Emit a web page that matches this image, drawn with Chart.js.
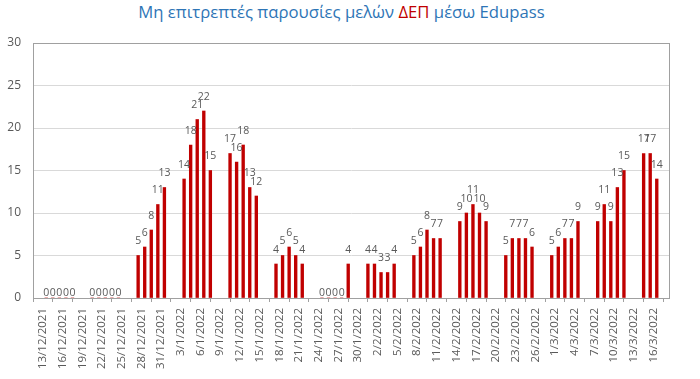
<!DOCTYPE html>
<html lang="el">
<head>
    <meta charset="UTF-8">
    <title>Μη επιτρεπτές παρουσίες μελών ΔΕΠ μέσω Edupass</title>
    <script src="https://cdn.jsdelivr.net/npm/chart.js"></script>
    <style>
        body { margin: 0; background: #fff; }
        .wrap { position: relative; width: 700px; height: 379px; }
        .title {
            position: absolute;
            top: 2px;
            left: 0;
            width: 683px;
            text-align: center;
            font-family: "Open Sans", sans-serif;
            font-size: 16.7px;
            line-height: 20px;
            color: #2e75b6;
            white-space: nowrap;
        }
        .title .red { color: #c00000; }
        canvas { position: absolute; top: 0; left: 0; }
    </style>
</head>
<body>
    <div class="wrap">
        <div class="title">Μη επιτρεπτές παρουσίες μελών <span class="red">ΔΕΠ</span> μέσω Edupass</div>
        <canvas id="chart" width="700" height="379"></canvas>
    </div>
    <script>
        // one entry per day, 13/12/2021 .. 16/3/2022 (null = weekend / holiday)
        const values = [
            0, 0, 0, 0, 0, null, null,        // 13/12
            0, 0, 0, 0, 0, null, null,        // 20/12
            5, 6, 8, 11, 13, null, null,      // 27/12
            14, 18, 21, 22, 15, null, null,   // 3/1
            17, 16, 18, 13, 12, null, null,   // 10/1
            4, 5, 6, 5, 4, null, null,        // 17/1
            0, 0, 0, 0, 4, null, null,        // 24/1
            4, 4, 3, 3, 4, null, null,        // 31/1
            5, 6, 8, 7, 7, null, null,        // 7/2
            9, 10, 11, 10, 9, null, null,     // 14/2
            5, 7, 7, 7, 6, null, null,        // 21/2
            5, 6, 7, 7, 9, null, null,        // 28/2
            9, 11, 9, 13, 15, null, null,     // 7/3
            17, 17, 14                        // 14/3
        ];

        // axis labels, every third day
        const tickLabels = [
            '13/12/2021', '16/12/2021', '19/12/2021', '22/12/2021', '25/12/2021',
            '28/12/2021', '31/12/2021', '3/1/2022', '6/1/2022', '9/1/2022',
            '12/1/2022', '15/1/2022', '18/1/2022', '21/1/2022', '24/1/2022',
            '27/1/2022', '30/1/2022', '2/2/2022', '5/2/2022', '8/2/2022',
            '11/2/2022', '14/2/2022', '17/2/2022', '20/2/2022', '23/2/2022',
            '26/2/2022', '1/3/2022', '4/3/2022', '7/3/2022', '10/3/2022',
            '13/3/2022', '16/3/2022'
        ];

        const points = [];
        values.forEach((v, i) => {
            if (v !== null) points.push({ x: i + 0.5, y: v });
        });

        const grey = '#595959';

        // value labels above the bars
        const barLabels = {
            id: 'barLabels',
            afterDatasetsDraw(chart) {
                const ctx = chart.ctx;
                const meta = chart.getDatasetMeta(0);
                ctx.save();
                ctx.font = '10.5px "Open Sans"';
                ctx.fillStyle = grey;
                ctx.textAlign = 'center';
                ctx.textBaseline = 'middle';
                meta.data.forEach((bar, k) => {
                    const v = points[k].y;
                    ctx.fillText(String(v), bar.x, bar.y - (v === 0 ? 5 : 14));
                });
                ctx.restore();
            }
        };

        // box around the plot area
        const plotBox = {
            id: 'plotBox',
            afterDraw(chart) {
                const a = chart.chartArea;
                const ctx = chart.ctx;
                ctx.save();
                ctx.strokeStyle = '#a0a0a0';
                ctx.lineWidth = 1;
                ctx.strokeRect(Math.round(a.left) + 0.5, Math.round(a.top) + 0.5,
                    Math.round(a.right - a.left) - 1, Math.round(a.bottom - a.top));
                ctx.restore();
            }
        };

        new Chart(document.getElementById('chart'), {
            type: 'bar',
            data: {
                datasets: [{
                    data: points,
                    backgroundColor: '#c00000',
                    barThickness: 2.7
                }]
            },
            options: {
                responsive: false,
                animation: false,
                devicePixelRatio: 1,
                layout: { padding: { top: 43, right: 30, left: 0, bottom: 0 } },
                plugins: {
                    legend: { display: false },
                    tooltip: { enabled: false }
                },
                scales: {
                    x: {
                        type: 'linear',
                        min: 0,
                        max: 94,
                        afterFit: s => { s.height = 81; },
                        afterBuildTicks: s => {
                            s.ticks = tickLabels.map((_, k) => ({ value: k * 3 }));
                        },
                        grid: {
                            drawOnChartArea: false,
                            drawTicks: true,
                            tickLength: 4,
                            color: '#a0a0a0'
                        },
                        border: { display: false },
                        ticks: {
                            autoSkip: false,
                            maxRotation: 90,
                            minRotation: 90,
                            padding: 6,
                            color: grey,
                            font: { family: 'Open Sans', size: 11.5 },
                            callback: v => tickLabels[Math.round(v / 3)]
                        }
                    },
                    y: {
                        min: 0,
                        max: 30,
                        afterFit: s => { s.width = 33; },
                        grid: { color: '#d9d9d9', drawTicks: false },
                        border: { display: false },
                        ticks: {
                            stepSize: 5,
                            padding: 12,
                            color: grey,
                            font: { family: 'Open Sans', size: 12 }
                        }
                    }
                }
            },
            plugins: [barLabels, plotBox]
        });
    </script>
</body>
</html>
